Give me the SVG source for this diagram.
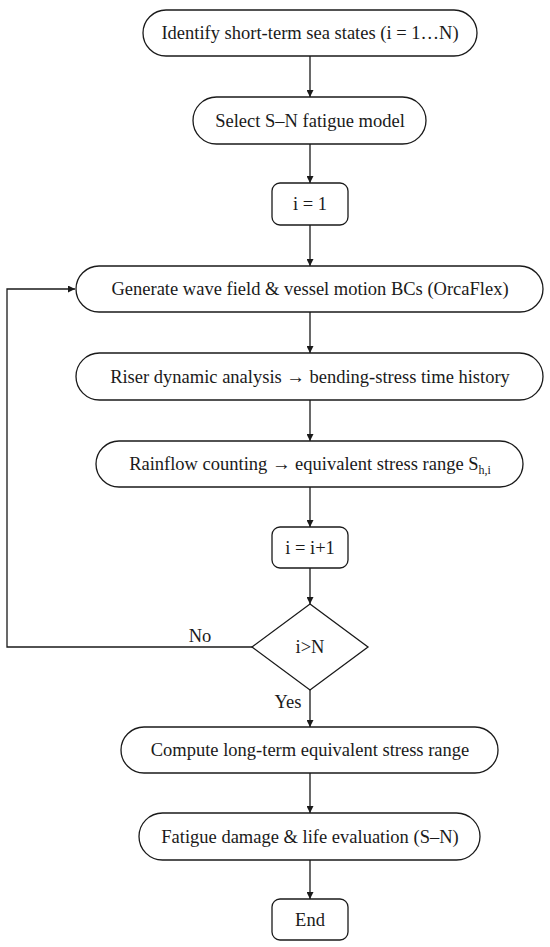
<svg xmlns="http://www.w3.org/2000/svg" width="550" height="947" viewBox="0 0 550 947">
<defs>
<marker id="ah" viewBox="0 0 10 10" refX="10" refY="5" markerWidth="7" markerHeight="7" markerUnits="userSpaceOnUse" orient="auto">
<path d="M0,0 L10,5 L0,10 z" fill="#1a1a1a"/>
</marker>
<style>
.n{fill:#fff;stroke:#1a1a1a;stroke-width:1.3}
.t{font-family:"Liberation Serif","Times New Roman",serif;font-size:18.5px;fill:#1a1a1a;text-anchor:middle}
.c{fill:none;stroke:#1a1a1a;stroke-width:1.3;marker-end:url(#ah)}
</style>
</defs>
<rect width="550" height="947" fill="#fff"/>
<g id="connectors">
<line class="c" x1="310" y1="56" x2="310" y2="97"/>
<line class="c" x1="310" y1="144" x2="310" y2="183"/>
<line class="c" x1="310" y1="225" x2="310" y2="266"/>
<line class="c" x1="310" y1="312" x2="310" y2="353"/>
<line class="c" x1="310" y1="400" x2="310" y2="441"/>
<line class="c" x1="310" y1="487" x2="310" y2="527"/>
<line class="c" x1="310" y1="568" x2="310" y2="604"/>
<polyline class="c" points="252,647 7,647 7,289 75,289"/>
<line class="c" x1="310" y1="690" x2="310" y2="727"/>
<line class="c" x1="310" y1="773" x2="310" y2="813"/>
<line class="c" x1="310" y1="860" x2="310" y2="899"/>
<text class="t" x="200" y="642">No</text>
<text class="t" x="288" y="708">Yes</text>
</g>
<g id="n1"><rect class="n" x="143" y="10" width="334" height="46" rx="23"/><text class="t" x="310" y="39">Identify short-term sea states (i = 1…N)</text></g>
<g id="n2"><rect class="n" x="193" y="97" width="233" height="47" rx="23.5"/><text class="t" x="310" y="127">Select S–N fatigue model</text></g>
<g id="n3"><rect class="n" x="272" y="183" width="76" height="42" rx="8"/><text class="t" x="310" y="210">i = 1</text></g>
<g id="n4"><rect class="n" x="76" y="266" width="467" height="46" rx="23"/><text class="t" x="310" y="295">Generate wave field &amp; vessel motion BCs (OrcaFlex)</text></g>
<g id="n5"><rect class="n" x="76" y="353" width="467" height="47" rx="23.5"/><text class="t" x="310" y="383">Riser dynamic analysis → bending-stress time history</text></g>
<g id="n6"><rect class="n" x="96" y="441" width="427" height="46" rx="23"/><text class="t" x="310" y="470">Rainflow counting → equivalent stress range S<tspan font-size="12" dy="4">h,i</tspan></text></g>
<g id="n7"><rect class="n" x="272" y="527" width="76" height="41" rx="8"/><text class="t" x="310" y="554">i = i+1</text></g>
<g id="n8"><polygon class="n" points="310,604 368,647 310,690 252,647"/><text class="t" x="310" y="653">i&gt;N</text></g>
<g id="n9"><rect class="n" x="121" y="727" width="377" height="46" rx="23"/><text class="t" x="310" y="756">Compute long-term equivalent stress range</text></g>
<g id="n10"><rect class="n" x="139" y="813" width="341" height="47" rx="23.5"/><text class="t" x="310" y="843">Fatigue damage &amp; life evaluation (S–N)</text></g>
<g id="n11"><rect class="n" x="272" y="899" width="76" height="41" rx="8"/><text class="t" x="310" y="926">End</text></g>
</svg>
